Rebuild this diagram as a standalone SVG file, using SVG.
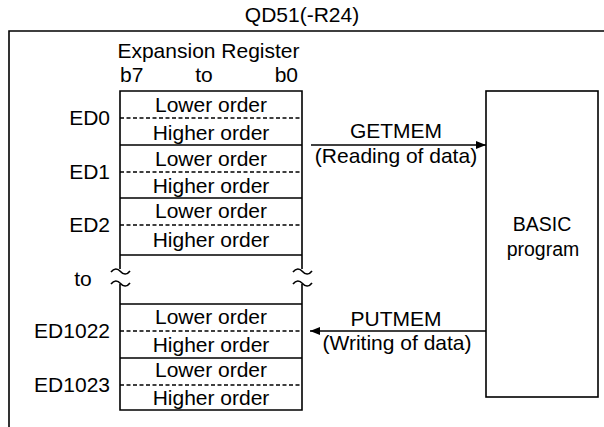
<svg xmlns="http://www.w3.org/2000/svg" width="604" height="427" viewBox="0 0 604 427">
<style>
text{font-family:"Liberation Sans",Arial,sans-serif;font-size:21px;fill:#000}
.c{text-anchor:middle}
.e{text-anchor:end}
.ln{stroke:#000;stroke-width:1.6;fill:none}
.dash{stroke:#000;stroke-width:1.4;stroke-dasharray:4 2.5;fill:none}
</style>
<defs>
<marker id="ah" viewBox="0 0 10 10" refX="10" refY="5" markerWidth="10" markerHeight="10" markerUnits="userSpaceOnUse" orient="auto">
<path d="M0,1 L10,5 L0,9 Z" fill="#000"/>
</marker>
</defs>
<g id="module">
<text class="c" x="302" y="22">QD51(-R24)</text>
<path class="ln" d="M9,427 V31 H604"/>
</g>
<g id="register">
<text class="c" x="208.5" y="58">Expansion Register</text>
<text x="120" y="82">b7</text>
<text class="c" x="204" y="82">to</text>
<text class="e" x="298" y="82">b0</text>
<path class="ln" d="M120,269 V91 H302 V269"/>
<path class="ln" d="M120,284 V410 H302 V284"/>
<path class="ln" d="M111,272 c3,-4 6.5,-4 9.5,-0.5 s6.5,3.5 9.5,-0.5"/>
<path class="ln" d="M111,284 c3,-4 6.5,-4 9.5,-0.5 s6.5,3.5 9.5,-0.5"/>
<path class="ln" d="M293,272 c3,-4 6.5,-4 9.5,-0.5 s6.5,3.5 9.5,-0.5"/>
<path class="ln" d="M293,284 c3,-4 6.5,-4 9.5,-0.5 s6.5,3.5 9.5,-0.5"/>
<path class="ln" d="M120,145 H302 M120,198 H302 M120,255 H302 M120,304 H302 M120,358 H302"/>
<path class="dash" d="M120,118 H302 M120,172 H302 M120,225 H302 M120,331 H302 M120,385 H302"/>
<text class="c" x="211" y="112">Lower order</text>
<text class="c" x="211" y="140">Higher order</text>
<text class="c" x="211" y="166">Lower order</text>
<text class="c" x="211" y="193">Higher order</text>
<text class="c" x="211" y="218">Lower order</text>
<text class="c" x="211" y="247">Higher order</text>
<text class="c" x="211" y="324">Lower order</text>
<text class="c" x="211" y="352">Higher order</text>
<text class="c" x="211" y="377">Lower order</text>
<text class="c" x="211" y="405">Higher order</text>
</g>
<g id="labels">
<text class="e" x="110" y="125">ED0</text>
<text class="e" x="110" y="179">ED1</text>
<text class="e" x="110" y="232">ED2</text>
<text class="c" x="83" y="286">to</text>
<text class="e" x="110" y="338">ED1022</text>
<text class="e" x="110" y="392">ED1023</text>
</g>
<g id="basic">
<rect class="ln" x="486" y="91" width="112" height="306"/>
<text class="c" x="542" y="231" style="font-size:19.5px">BASIC</text>
<text class="c" x="543" y="256" style="font-size:19.5px">program</text>
</g>
<g id="connectors">
<line class="ln" x1="311" y1="145" x2="486" y2="145" marker-end="url(#ah)"/>
<text class="c" x="396" y="138">GETMEM</text>
<text class="c" x="396" y="163">(Reading of data)</text>
<line class="ln" x1="486" y1="331" x2="310" y2="331" marker-end="url(#ah)"/>
<text class="c" x="396" y="326">PUTMEM</text>
<text class="c" x="397" y="350">(Writing of data)</text>
</g>
</svg>
